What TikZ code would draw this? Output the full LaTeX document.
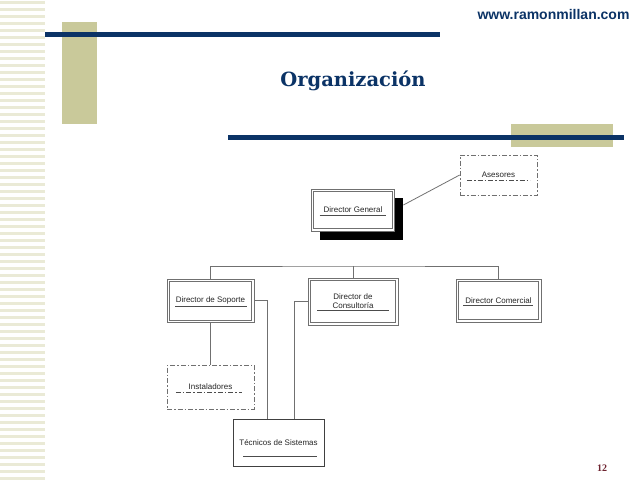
\documentclass[tikz,border=0pt]{standalone}
\usepackage{fontspec}
\setmainfont{Liberation Sans}
\newfontfamily\titlefont{DejaVu Serif}
\newfontfamily\numfont{Liberation Serif}
\usetikzlibrary{shadows,backgrounds,calc}
\definecolor{navy}{HTML}{0B3366}
\definecolor{khaki}{HTML}{C9C99A}
\definecolor{stripe}{HTML}{EAEAD6}
\definecolor{maroon}{HTML}{6E2430}
\definecolor{linegray}{HTML}{707070}
\tikzset{
  boxtext/.style={font=\fontsize{8}{9}\selectfont, text=black!85},
  dblbox/.style={boxtext, draw=linegray, line width=0.8pt, fill=white, inner sep=0pt,
    path picture={\draw[linegray, line width=0.7pt]
      ([shift={(2.2pt,-2.2pt)}]path picture bounding box.north west) rectangle
      ([shift={(-2.2pt,2.2pt)}]path picture bounding box.south east);}},
  dashbox/.style={boxtext, draw=linegray, dash pattern=on 5pt off 2pt on 1.5pt off 2pt, line width=0.7pt, fill=white, inner sep=0pt},
  plainbox/.style={boxtext, draw=black!75, line width=0.7pt, fill=white, inner sep=0pt},
  conn/.style={draw=linegray, line width=0.8pt},
  uline/.style={draw=black!70, line width=0.7pt},
  duline/.style={uline, dash pattern=on 5pt off 2pt on 1.5pt off 2pt}
}
\begin{document}
\begin{tikzpicture}[x=1pt,y=-1pt]
\useasboundingbox (0,0) rectangle (640,480);
\fill[white] (0,0) rectangle (640,480);
% left stripes
\foreach \i in {0,...,68} {
  \fill[stripe] (0,\i*7+1) rectangle (45,\i*7+3.5);
}
% decoration
\fill[khaki] (62,22) rectangle (97,124);
\fill[navy] (45,32) rectangle (440,37);
\fill[khaki] (511,124) rectangle (613,147);
\fill[navy] (228,135) rectangle (624,139.5);
\node[anchor=east, text=navy, font=\fontsize{14}{17}\selectfont\bfseries] (url) at (633,14) {www.ramonmillan.com};
\node[text=navy, font=\titlefont\fontsize{19.5}{22}\selectfont\bfseries] (title) at (353,81) {Organización};
\node[text=maroon, font=\numfont\fontsize{10}{12}\selectfont\bfseries] (num) at (602,468) {12};

% org chart nodes
\node[dblbox, minimum width=83pt, minimum height=42pt,
      general shadow={fill=black, shadow xshift=8.5pt, shadow yshift=-8.5pt}] (dg) at (353,210) {Director General};
\node[dashbox, minimum width=77pt, minimum height=40pt] (as) at (498.5,175) {Asesores};
\node[dblbox, minimum width=87pt, minimum height=43.5pt] (sop) at (210.5,300.8) {Director de Soporte};
\node[dblbox, minimum width=90pt, minimum height=47pt, align=center] (con) at (353,301.5) {Director de\\Consultoría};
\node[dblbox, minimum width=85pt, minimum height=43pt] (com) at (498.5,300.5) {Director Comercial};
\node[dashbox, minimum width=87pt, minimum height=44pt] (ins) at (210.5,387) {Instaladores};
\node[plainbox, minimum width=91pt, minimum height=47pt] (tec) at (278.5,442.5) {Técnicos de Sistemas};

% underlines
\draw[uline] ($(dg.center)+(-33.4,5)$) -- ($(dg.center)+(33.3,5)$);
\draw[duline] ($(as.center)+(-31.5,5)$) -- ($(as.center)+(31.5,5)$);
\draw[uline] ($(sop.center)+(-35.5,5.2)$) -- ($(sop.center)+(36.5,5.2)$);
\draw[uline] ($(con.center)+(-36,9.2)$) -- ($(con.center)+(36,9.2)$);
\draw[uline] ($(com.center)+(-35.5,5.2)$) -- ($(com.center)+(34.5,5.2)$);
\draw[duline] ($(ins.center)+(-34.7,5)$) -- ($(ins.center)+(31.3,5)$);
\draw[uline] ($(tec.center)+(-35.5,14.2)$) -- ($(tec.center)+(38.2,14.2)$);

% connectors
\coordinate (bus) at (353,266);
\begin{scope}[on background layer]
\draw[conn] (dg.south) -- (bus);
\end{scope}
\draw[conn] (sop.north) |- (bus) -| (com.north);
\draw[conn] (bus) -- (con.north);
\draw[conn] ([xshift=8.5pt,yshift=5pt]dg.east) -- (as.west);
\draw[conn] (sop.east) -| ([xshift=-11.2pt]tec.north);
\draw[conn] (con.west) -| ([xshift=15.8pt]tec.north);
\draw[conn] (sop.south) -- (ins.north);
\end{tikzpicture}
\end{document}
